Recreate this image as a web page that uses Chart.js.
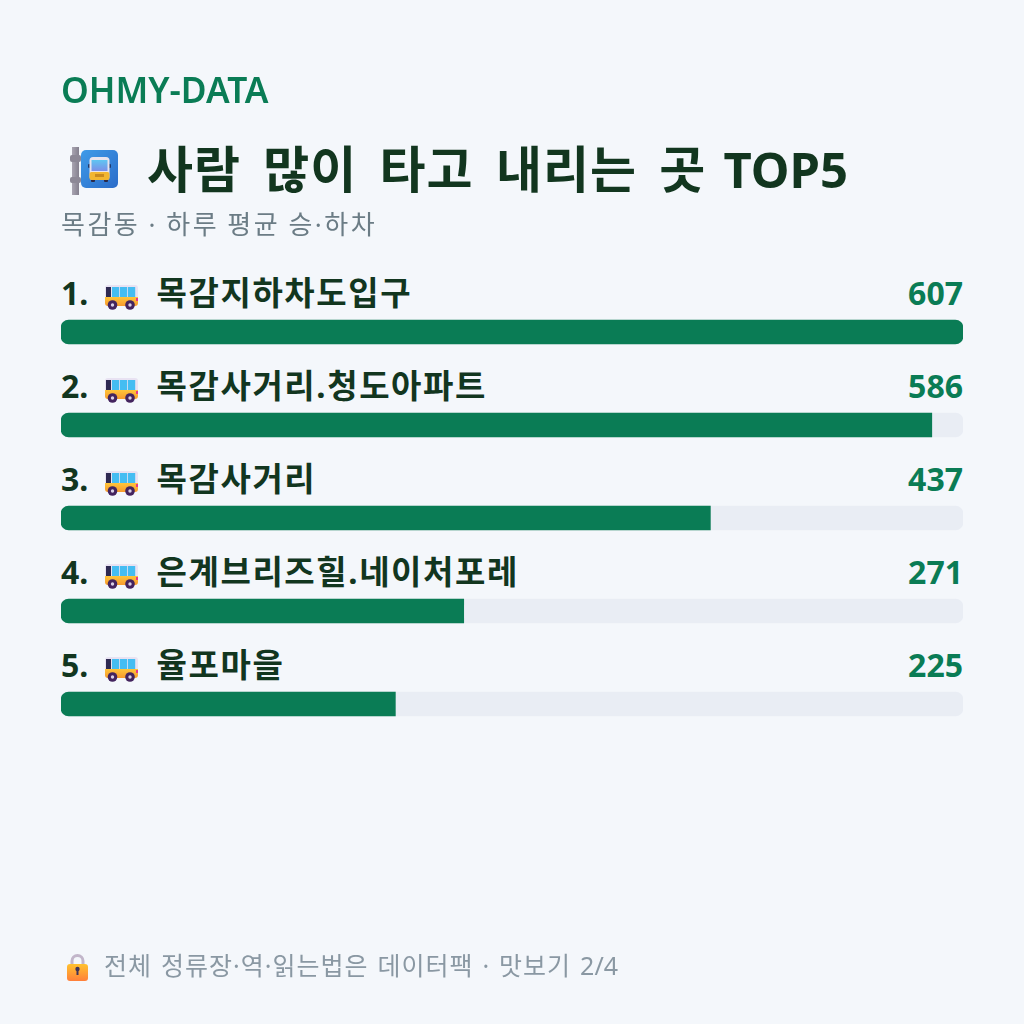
<!DOCTYPE html>
<html lang="ko">
<head>
<meta charset="utf-8">
<title>사람 많이 타고 내리는 곳 TOP5</title>
<script src="https://cdn.jsdelivr.net/npm/chart.js@4"></script>
<style>
  html, body { margin: 0; padding: 0; background: #F4F7FB; }
  body { width: 1024px; height: 1024px; position: relative; overflow: hidden;
         font-family: "Noto Sans", "Noto Sans CJK KR", sans-serif; }
  .t { position: absolute; white-space: pre; line-height: 1; }
  .k { font-size: 50px; letter-spacing: 1px; word-spacing: 8.3px; }
  .latin { margin-left: -5px; }
  #brand { left: 61px; top: 72px; font-size: 35.3px; font-weight: 600; color: #0A7C55; }
  #title { left: 147px; top: 144px; font-size: 49px; font-weight: 700; color: #12361F; }
  #sub { left: 61px; top: 211px; font-size: 26px; color: #6B7C85; letter-spacing: 2.5px; word-spacing: -1px; }
  #foot { left: 104px; top: 953px; font-size: 25px; color: #8A98A3; letter-spacing: 1px; word-spacing: 1.5px; }
  #foot span { letter-spacing: 0; }
  #chart { position: absolute; left: 0; top: 0; }
  svg { position: absolute; }
</style>
</head>
<body>
<canvas id="chart" width="1024" height="1024"></canvas>
<div class="t" id="brand">OHMY-DATA</div>
<svg style="left:64px;top:144px" width="56" height="56" viewBox="0 0 56 56">
  <defs>
    <linearGradient id="sign" x1="0" y1="0" x2="1" y2="1"><stop offset="0" stop-color="#3F9BE8"/><stop offset="1" stop-color="#2B6CC9"/></linearGradient>
    <linearGradient id="post" x1="0" y1="0" x2="1" y2="0"><stop offset="0" stop-color="#A9A5B2"/><stop offset="1" stop-color="#84808E"/></linearGradient>
    <linearGradient id="shield" x1="0" y1="0" x2="0" y2="1"><stop offset="0" stop-color="#5FC6F2"/><stop offset="1" stop-color="#7C8FE8"/></linearGradient>
  </defs>
  <rect x="8" y="3" width="7" height="48" fill="url(#post)"/>
  <rect x="6" y="11" width="11" height="7" rx="2" fill="#8C8896"/>
  <rect x="6" y="33" width="11" height="6" rx="2" fill="#8C8896"/>
  <rect x="17" y="6" width="37" height="38" rx="5" fill="url(#sign)"/>
  <rect x="24" y="20" width="23" height="4" rx="1" fill="#1F3A6E"/>
  <rect x="27" y="33" width="4" height="5" rx="1" fill="#2A2A4A"/>
  <rect x="40" y="33" width="4" height="5" rx="1" fill="#2A2A4A"/>
  <rect x="25.5" y="13" width="20" height="23" rx="3.5" fill="#E8E4EE"/>
  <rect x="27.5" y="16" width="16" height="11" fill="url(#shield)"/>
  <rect x="25.5" y="28" width="20" height="8" rx="2" fill="#F2B632"/>
  <rect x="31" y="30" width="9" height="3" fill="#C98A20"/>
</svg>
<div class="t" id="title"><span class="k">사람 많이 타고 내리는 곳 </span><span class="latin">TOP5</span></div>
<div class="t" id="sub">목감동 · 하루 평균 승·하차</div>
<svg style="left:66px;top:953px" width="24" height="30" viewBox="0 0 24 30">
  <defs><linearGradient id="lock" x1="0" y1="0" x2="0" y2="1"><stop offset="0" stop-color="#FFC22E"/><stop offset="1" stop-color="#FF7F3A"/></linearGradient></defs>
  <path d="M6 12V8a5.5 5.5 0 0 1 11 0v4" fill="none" stroke="#C2B6CA" stroke-width="3"/>
  <rect x="1" y="11" width="21" height="17" rx="3" fill="url(#lock)"/>
  <circle cx="11.5" cy="16" r="2.2" fill="#3E3358"/><rect x="10.5" y="16" width="2" height="6" fill="#3E3358"/>
</svg>
<div class="t" id="foot">전체 정류장·역·읽는법은 데이터팩 · 맛보기 <span>2/4</span></div>
<script>
const stops = ['목감지하차도입구', '목감사거리.청도아파트', '목감사거리', '은계브리즈힐.네이처포레', '율포마을'];
const riders = [607, 586, 437, 271, 225];
const trackValues = [607, 607, 607, 607, 607];
const scaleMax = 607;

const rowFont = '700 32px "Noto Sans", "Noto Sans CJK KR", sans-serif';
const nameFont = '700 33px "Noto Sans", "Noto Sans CJK KR", sans-serif';

// Small side-on bus pictogram, anchored at its top-left corner
function drawBus(ctx, x, y) {
  const body = ctx.createLinearGradient(0, y, 0, y + 21);
  body.addColorStop(0, '#E8E2F2');
  body.addColorStop(0.55, '#E8E2F2');
  body.addColorStop(0.57, '#FFC53A');
  body.addColorStop(1, '#F79A2E');
  ctx.fillStyle = body;
  ctx.beginPath();
  ctx.roundRect(x, y, 33, 21, 3);
  ctx.fill();
  ctx.fillStyle = '#2E2A52';
  ctx.fillRect(x + 1, y + 2, 5, 10);
  ctx.fillStyle = '#45BDF2';
  [7, 15, 23].forEach(dx => ctx.fillRect(x + dx, y + 2, 7.2, 10));
  ctx.fillStyle = '#E8388A';
  ctx.fillRect(x + 31, y + 13, 2, 3);
  [7.5, 25].forEach(dx => {
    ctx.fillStyle = '#43245E';
    ctx.beginPath(); ctx.arc(x + dx, y + 20, 4.8, 0, Math.PI * 2); ctx.fill();
    ctx.fillStyle = '#D9D0E6';
    ctx.beginPath(); ctx.arc(x + dx, y + 20, 1.7, 0, Math.PI * 2); ctx.fill();
  });
}

// Rank, icon, stop name and value printed on the line above each bar
const rowLabels = {
  id: 'rowLabels',
  afterDatasetsDraw(chart) {
    const { ctx, scales: { x, y } } = chart;
    ctx.save();
    ctx.textBaseline = 'alphabetic';
    stops.forEach((name, i) => {
      const centre = y.getPixelForValue(i);
      const base = centre - 27;
      ctx.textAlign = 'left';
      ctx.font = rowFont;
      ctx.fillStyle = '#12361F';
      ctx.letterSpacing = '0px';
      ctx.fillText(`${i + 1}.`, x.left, base);
      drawBus(ctx, x.left + 44, centre - 47);
      ctx.font = nameFont;
      ctx.fillStyle = '#12361F';
      ctx.letterSpacing = '1.6px';
      ctx.fillText(name, x.left + 95.5, base);
      ctx.font = rowFont;
      ctx.letterSpacing = '0px';
      ctx.textAlign = 'right';
      ctx.fillStyle = '#0A7C55';
      ctx.fillText(String(riders[i]), x.right, base);
    });
    ctx.restore();
  }
};

const canvas = document.getElementById('chart');
canvas.getContext('2d', { alpha: false });

new Chart(canvas, {
  type: 'bar',
  data: {
    labels: stops,
    datasets: [
      {
        data: riders,
        backgroundColor: '#0A7C55',
        order: 1,
        borderSkipped: false,
        // the fill takes the track's rounded end only when it reaches the end of the scale
        borderRadius: c => {
          const end = c.raw >= scaleMax ? 8 : 0;
          return { topLeft: 8, bottomLeft: 8, topRight: end, bottomRight: end };
        }
      },
      { data: trackValues, backgroundColor: '#E9EDF4', order: 2, borderRadius: 8, borderSkipped: false }
    ]
  },
  options: {
    indexAxis: 'y',
    responsive: false,
    animation: false,
    layout: { padding: { left: 61, right: 61, top: 285.5, bottom: 273.5 } },
    datasets: { bar: { grouped: false, barThickness: 24 } },
    plugins: { legend: { display: false }, tooltip: { enabled: false } },
    scales: {
      x: { display: false, min: 0, max: scaleMax },
      y: { display: false }
    }
  },
  plugins: [
    { id: 'paper', beforeDraw(c) { c.ctx.save(); c.ctx.fillStyle = '#F4F7FB'; c.ctx.fillRect(0, 0, 1024, 1024); c.ctx.restore(); } },
    rowLabels
  ]
});
</script>
</body>
</html>
